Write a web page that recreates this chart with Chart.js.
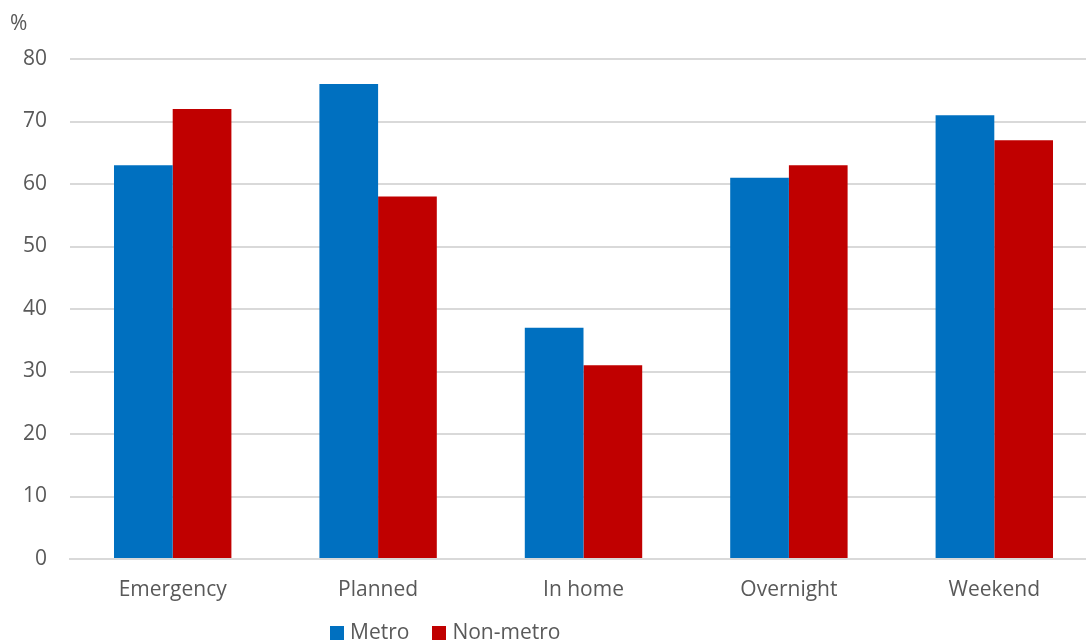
<!DOCTYPE html>
<html>
<head>
<meta charset="utf-8">
<script src="https://cdn.jsdelivr.net/npm/chart.js@4"></script>
<style>
  html, body { margin:0; padding:0; overflow:hidden; background:#fff; width:1086px; height:641px; }
  #wrap { position:absolute; left:0; top:0; width:1110px; height:641px; }
  #unit { position:absolute; left:10px; top:8px; font:21px "Open Sans", sans-serif; color:#595959; }
  #legend { position:absolute; left:330px; top:617px; font:21px "Open Sans", sans-serif; color:#595959; display:flex; white-space:nowrap; }
  #legend .item { display:flex; align-items:center; margin-right:23px; }
  #legend .box { width:14px; height:14px; margin-right:6px; margin-top:3px; }
</style>
</head>
<body>
<div id="wrap"><canvas id="c" width="1110" height="641"></canvas></div>
<div id="unit">%</div>
<div id="legend"></div>
<script>
const categories = ["Emergency", "Planned", "In home", "Overnight", "Weekend"];
const metro = [63, 76, 37, 61, 71];
const nonMetro = [72, 58, 31, 63, 67];
const seriesNames = ["Metro", "Non-metro"];
const seriesColors = ["#0070C0", "#C00000"];
const yTicks = [0, 10, 20, 30, 40, 50, 60, 70, 80];

const font = { family: "'Open Sans', sans-serif", size: 21 };

new Chart(document.getElementById('c'), {
  type: 'bar',
  data: {
    labels: categories,
    datasets: [
      { label: seriesNames[0], data: metro, backgroundColor: seriesColors[0], categoryPercentage: 0.5716, barPercentage: 1 },
      { label: seriesNames[1], data: nonMetro, backgroundColor: seriesColors[1], categoryPercentage: 0.5716, barPercentage: 1 }
    ]
  },
  options: {
    responsive: false,
    animation: false,
    layout: { padding: { top: 59, right: 13, left: 0, bottom: 0 } },
    plugins: { legend: { display: false }, tooltip: { enabled: false } },
    scales: {
      x: {
        grid: { display: false, drawTicks: false },
        border: { display: true, color: '#D9D9D9', width: 2 },
        ticks: { color: '#595959', font: font, padding: 18, maxRotation: 0 },
        afterFit(s) { s.height = 82; }
      },
      y: {
        min: 0, max: 80,
        afterBuildTicks(s) { s.ticks = yTicks.map(v => ({ value: v })); },
        grid: { color: '#D9D9D9', lineWidth: 2, drawTicks: false },
        border: { display: false },
        ticks: { color: '#595959', font: font, padding: 23 },
        afterFit(s) { s.width = 70; }
      }
    }
  }
});

const leg = document.getElementById('legend');
seriesNames.forEach((n, i) => {
  const it = document.createElement('div'); it.className = 'item';
  const b = document.createElement('div'); b.className = 'box'; b.style.background = seriesColors[i];
  const t = document.createElement('span'); t.textContent = n;
  it.appendChild(b); it.appendChild(t); leg.appendChild(it);
});
</script>
</body>
</html>
